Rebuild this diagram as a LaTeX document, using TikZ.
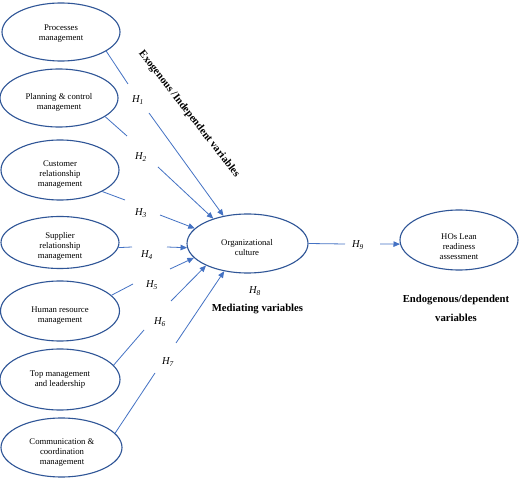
\documentclass[tikz,border=0pt]{standalone}
\usepackage{fontspec}
\setmainfont{Liberation Serif}
\usetikzlibrary{arrows.meta,shapes.geometric}
\definecolor{ellblue}{HTML}{2F5597}
\definecolor{lineblue}{HTML}{4472C4}
\tikzset{
  ell/.style={ellipse, draw=ellblue, line width=1.1pt, inner sep=0pt},
  ltxt/.style={align=center, inner sep=0pt, font=\fontsize{8.7}{10}\selectfont},
  hlab/.style={inner sep=0pt, font=\fontsize{10.5}{12}\selectfont\itshape},
  blab/.style={align=center, inner sep=0pt, font=\fontsize{10.7}{19}\selectfont\bfseries},
  conn/.style={draw=lineblue, line width=0.8pt},
  arr/.style={conn, -{Triangle[length=6.5pt,width=5.5pt]}},
}
\newcommand{\hyp}[1]{H\textsubscript{\itshape #1}}
\begin{document}
\begin{tikzpicture}[x=1pt,y=-1pt]
\fill[white] (0,0) rectangle (520,478);
\useasboundingbox (0,0) rectangle (520,478);

% ellipses
\node[ell, minimum width=118pt, minimum height=58pt] (e1) at (61,32) {};
\node[ell, minimum width=118pt, minimum height=58pt] (e2) at (59,98) {};
\node[ell, minimum width=118pt, minimum height=60pt] (e3) at (60,170) {};
\node[ell, minimum width=118pt, minimum height=52pt] (e4) at (60,242.5) {};
\node[ell, minimum width=119pt, minimum height=60pt] (e5) at (60,311) {};
\node[ell, minimum width=120pt, minimum height=61pt] (e6) at (60,379.5) {};
\node[ell, minimum width=121pt, minimum height=59pt] (e7) at (61.5,447.5) {};
\node[ell, minimum width=121pt, minimum height=59pt] (org) at (247.5,243.5) {};
\node[ell, minimum width=118pt, minimum height=60pt] (hos) at (459,240) {};

% texts
\node[ltxt] (t1) at (61,34) {Processes\\management};
\node[ltxt] (t2) at (59,102) {Planning \& control\\management};
\node[ltxt] (t3) at (60,175) {Customer\\relationship\\management};
\node[ltxt] (t4) at (60,246) {Supplier\\relationship\\management};
\node[ltxt] (t5) at (60,315.5) {Human resource\\management};
\node[ltxt] (t6) at (60,380) {Top management\\and leadership};
\node[ltxt] (t7) at (62,453) {Communication \&\\coordination\\management};
\node[ltxt] (torg) at (247,248) {Organizational\\culture};
\node[ltxt] (thos) at (459,247) {HOs Lean\\readiness\\assessment};

% gap coordinates
\coordinate (g1a) at (128,84);  \coordinate (g1b) at (149,113);
\coordinate (g2a) at (127,136); \coordinate (g2b) at (158,167);
\coordinate (g3a) at (125,200); \coordinate (g3b) at (160,215);
\coordinate (g4a) at (132,247); \coordinate (g4b) at (167,247);
\coordinate (g5a) at (133,284); \coordinate (g5b) at (170,269);
\coordinate (g6a) at (144,330); \coordinate (g6b) at (171,301);
\coordinate (g7a) at (155,373); \coordinate (g7b) at (176,343);
\coordinate (g9a) at (345,244); \coordinate (g9b) at (380,244);

% connectors
\draw[conn] (e1.-23) -- (g1a);  \draw[arr] (g1b) -- (org.131);
\draw[conn] (e2.-22.6) -- (g2a); \draw[arr] (g2b) -- (org.144.6);
\draw[conn] (e3.-27) -- (g3a);  \draw[arr] (g3b) -- (org.164.6);
\draw[conn] (e4.-5) -- (g4a);   \draw[arr] (g4b) -- (org.-176.6);
\draw[conn] (e5.17) -- (g5a);   \draw[arr] (g5b) -- (org.-165.4);
\draw[conn] (e6.15.3) -- (g6a); \draw[arr] (g6b) -- (org.-152.1);
\draw[conn] (e7.15.3) -- (g7a); \draw[arr] (g7b) -- (org.-130.7);
\draw[conn] (org.0) -- (g9a);   \draw[arr] (g9b) -- (hos.-176);

% hypothesis labels
\node[hlab] (h1) at (138,100) {\hyp{1}};
\node[hlab] (h2) at (141,157) {\hyp{2}};
\node[hlab] (h3) at (141,213) {\hyp{3}};
\node[hlab] (h4) at (147,255) {\hyp{4}};
\node[hlab] (h5) at (152,285) {\hyp{5}};
\node[hlab] (h6) at (160,322) {\hyp{6}};
\node[hlab] (h7) at (168,362) {\hyp{7}};
\node[hlab] (h8) at (255,291) {\hyp{8}};
\node[hlab] (h9) at (358,245) {\hyp{9}};

% bold labels
\node[blab, rotate=-52] (exo) at (189,114) {Exogenous /Independent variables};
\node[blab] (med) at (257.5,308.5) {Mediating variables};
\node[blab] (endo) at (456,308.5) {Endogenous/dependent\\variables};
\end{tikzpicture}
\end{document}
